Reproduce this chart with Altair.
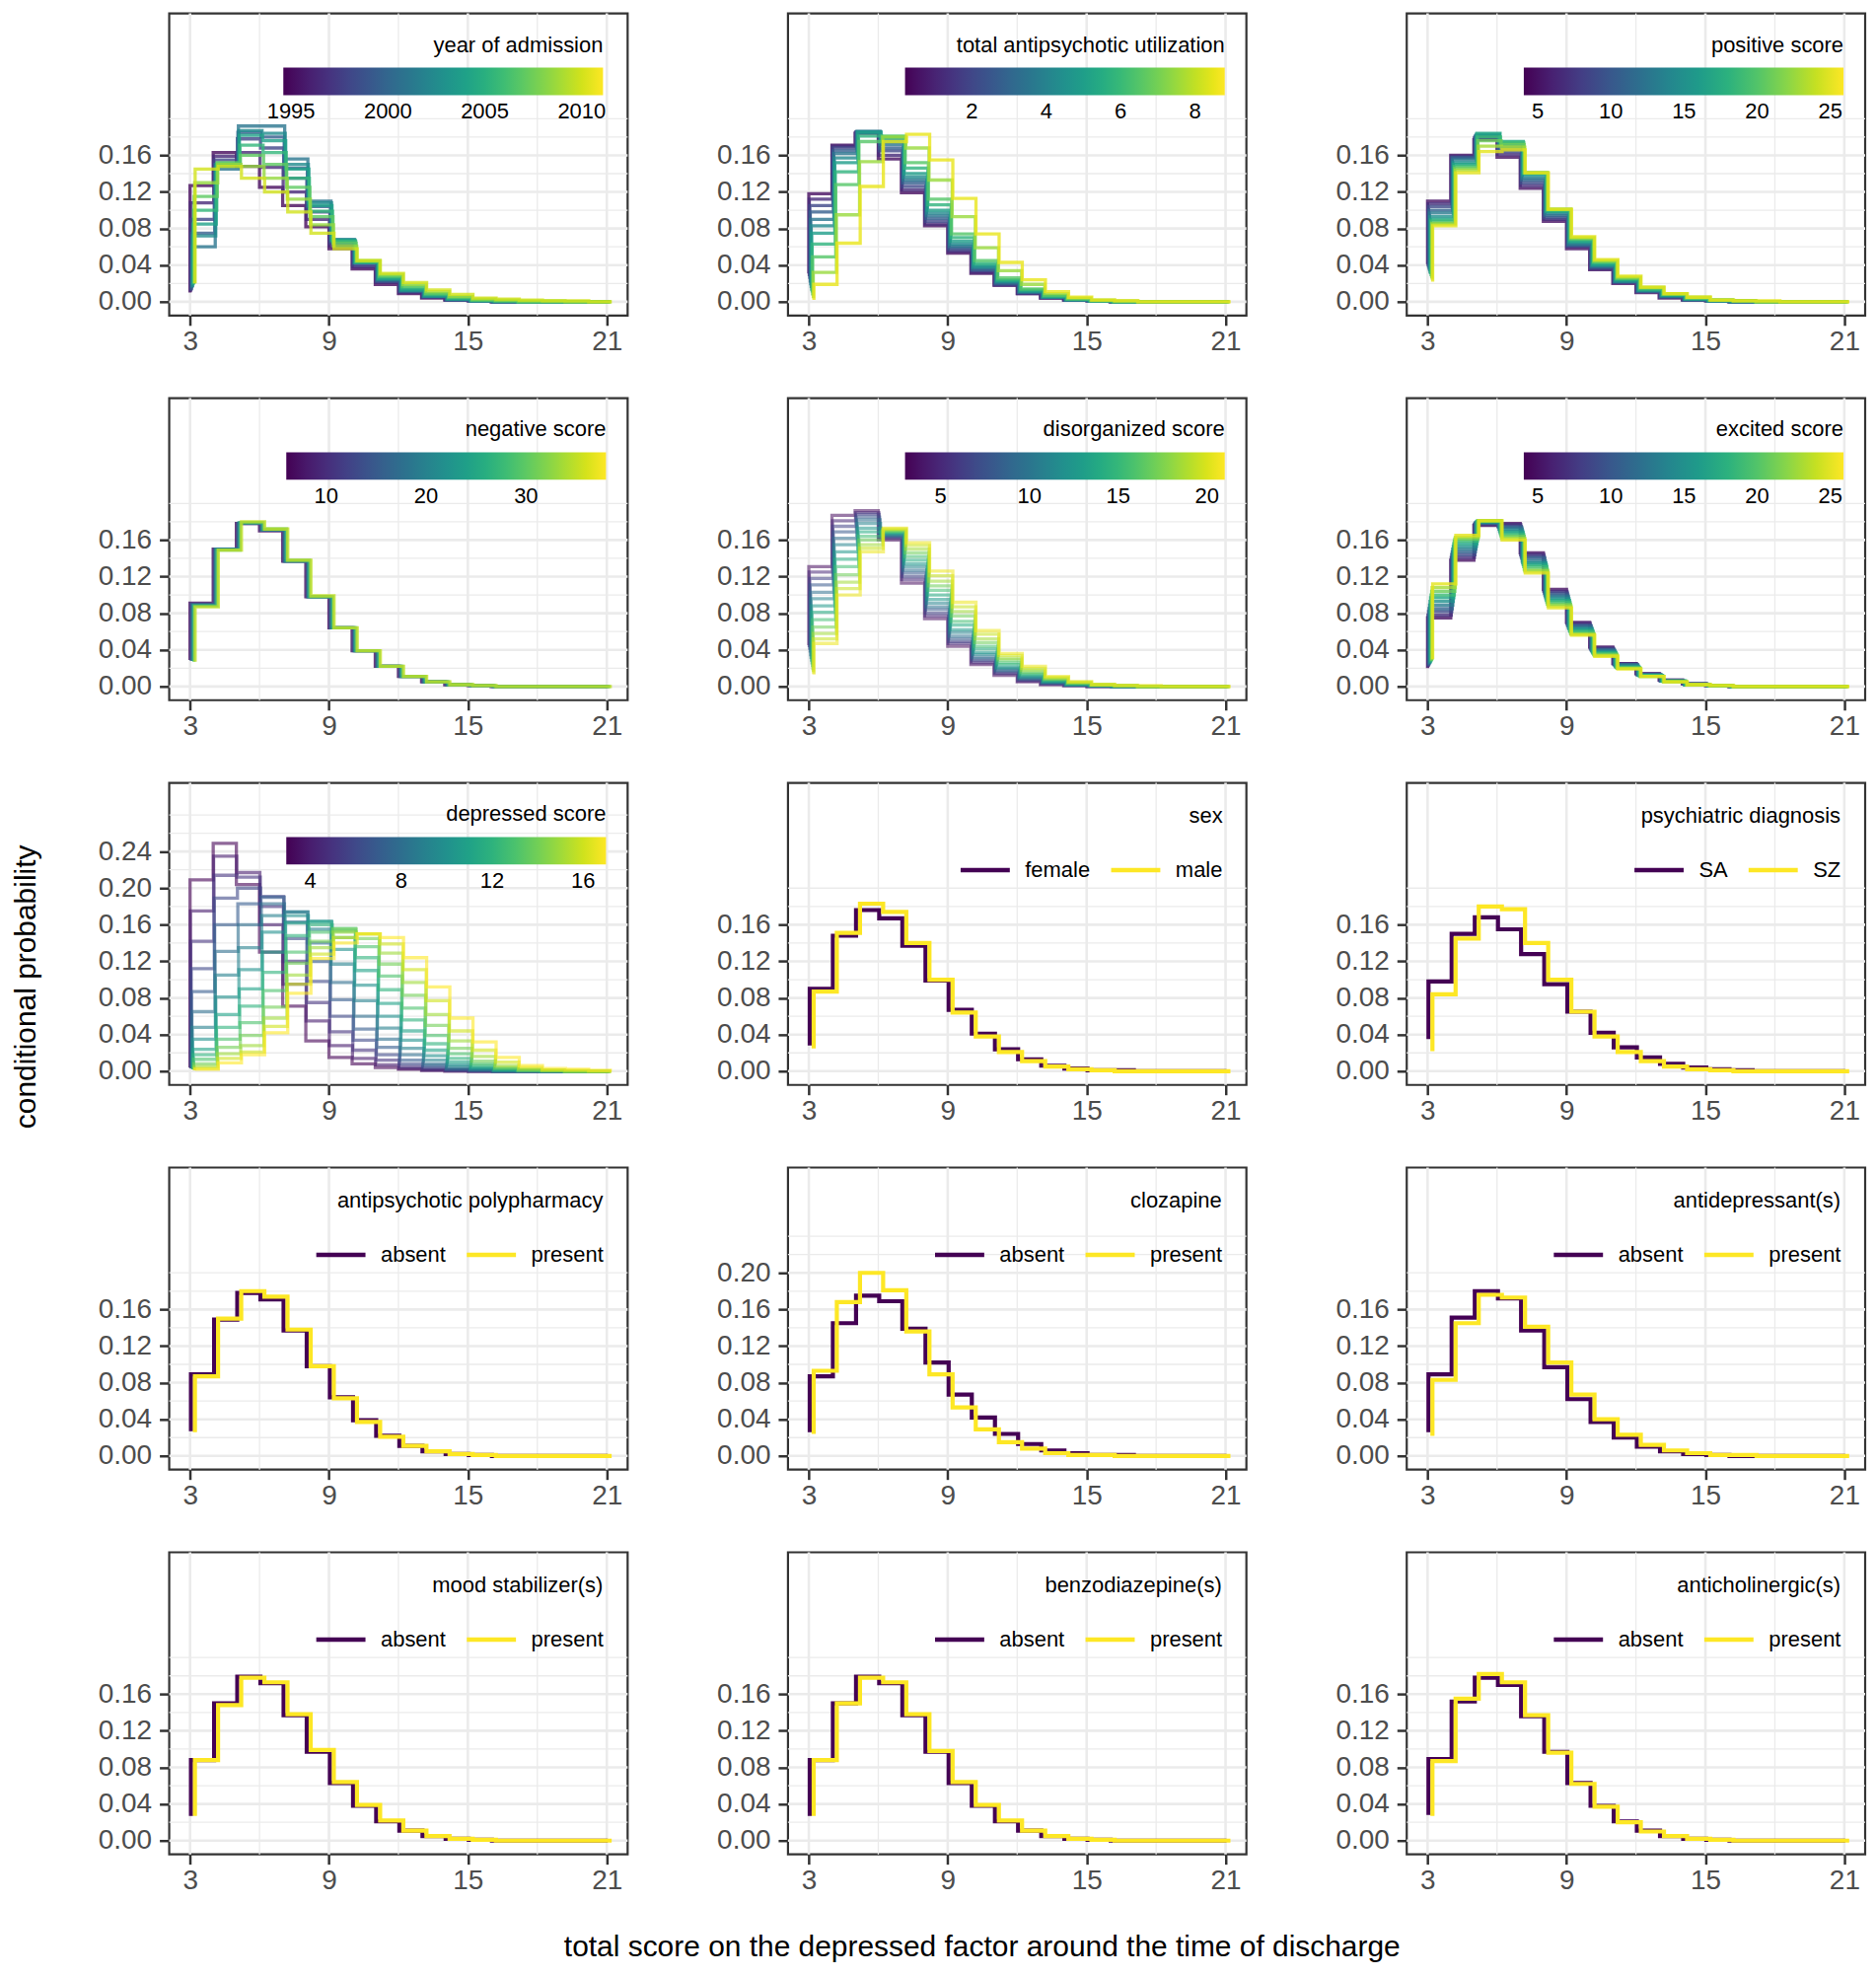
import altair as alt
import pandas as pd

# ---------------------------------------------------------------- data
SCORES = [3, 4, 5, 6, 7, 8, 9, 10, 11, 12, 13, 14, 15, 16, 17, 18, 19, 20, 21]
X_TICKS = [3, 9, 15, 21]
X_MINOR = [6, 12, 18]
Y_TICKS_16 = [0.0, 0.04, 0.08, 0.12, 0.16]
Y_MINOR_16 = [0.02, 0.06, 0.10, 0.14, 0.18, 0.20]
Y_TICKS_20 = [0.0, 0.04, 0.08, 0.12, 0.16, 0.20]
Y_MINOR_20 = [0.02, 0.06, 0.10, 0.14, 0.18, 0.22, 0.24]
Y_TICKS_24 = [0.0, 0.04, 0.08, 0.12, 0.16, 0.20, 0.24]
Y_MINOR_24 = [0.02, 0.06, 0.10, 0.14, 0.18, 0.22, 0.26, 0.28]

# year of admission
YEAR_VALUES = [1995, 1996.5, 1998, 1999.5, 2001, 2002.5, 2004, 2005.5, 2007, 2008.5, 2010]
YEAR_DOMAIN = [1994.6, 2011.1]
YEAR_LABELS = [1995, 2000, 2005, 2010]
YEAR_PROBS = [
    [0.010, 0.127, 0.163, 0.148, 0.125, 0.105, 0.082, 0.058, 0.036, 0.019, 0.009, 0.004, 0.002, 0.001, 0.000, 0.000, 0.000, 0.000, 0.000],
    [0.011, 0.108, 0.159, 0.163, 0.147, 0.120, 0.090, 0.061, 0.038, 0.021, 0.010, 0.005, 0.002, 0.001, 0.000, 0.000, 0.000, 0.000, 0.000],
    [0.012, 0.090, 0.155, 0.178, 0.168, 0.135, 0.098, 0.064, 0.040, 0.022, 0.011, 0.005, 0.002, 0.001, 0.000, 0.000, 0.000, 0.000, 0.000],
    [0.013, 0.075, 0.150, 0.185, 0.180, 0.146, 0.104, 0.066, 0.042, 0.023, 0.012, 0.006, 0.002, 0.001, 0.000, 0.000, 0.000, 0.000, 0.000],
    [0.015, 0.060, 0.145, 0.192, 0.192, 0.156, 0.110, 0.068, 0.043, 0.024, 0.012, 0.006, 0.003, 0.001, 0.000, 0.000, 0.000, 0.000, 0.000],
    [0.016, 0.072, 0.148, 0.187, 0.184, 0.150, 0.108, 0.068, 0.043, 0.025, 0.013, 0.006, 0.003, 0.001, 0.000, 0.000, 0.000, 0.000, 0.000],
    [0.018, 0.085, 0.150, 0.182, 0.176, 0.145, 0.105, 0.067, 0.043, 0.025, 0.013, 0.007, 0.003, 0.001, 0.001, 0.000, 0.000, 0.000, 0.000],
    [0.019, 0.100, 0.151, 0.171, 0.163, 0.135, 0.099, 0.066, 0.044, 0.027, 0.015, 0.008, 0.004, 0.002, 0.001, 0.000, 0.000, 0.000, 0.000],
    [0.020, 0.115, 0.152, 0.160, 0.150, 0.125, 0.093, 0.064, 0.044, 0.028, 0.017, 0.009, 0.005, 0.002, 0.001, 0.000, 0.000, 0.000, 0.000],
    [0.020, 0.130, 0.150, 0.148, 0.135, 0.112, 0.084, 0.061, 0.045, 0.030, 0.019, 0.011, 0.006, 0.003, 0.002, 0.001, 0.001, 0.000, 0.000],
    [0.020, 0.145, 0.148, 0.135, 0.120, 0.098, 0.075, 0.058, 0.045, 0.031, 0.021, 0.013, 0.008, 0.004, 0.003, 0.002, 0.001, 0.001, 0.000],
]

# total antipsychotic utilization
APU_VALUES = [0.5, 1.25, 2.0, 2.75, 3.5, 4.25, 5.0, 5.75, 6.5, 7.5, 8.5]
APU_DOMAIN = [0.2, 8.8]
APU_LABELS = [2, 4, 6, 8]
APU_PROBS = [
    [0.031, 0.118, 0.171, 0.184, 0.156, 0.119, 0.083, 0.053, 0.031, 0.018, 0.009, 0.004, 0.002, 0.001, 0.000, 0.000, 0.000, 0.000, 0.000],
    [0.028, 0.112, 0.170, 0.185, 0.160, 0.122, 0.085, 0.055, 0.032, 0.018, 0.009, 0.004, 0.002, 0.001, 0.000, 0.000, 0.000, 0.000, 0.000],
    [0.025, 0.105, 0.168, 0.185, 0.165, 0.126, 0.088, 0.057, 0.034, 0.019, 0.010, 0.005, 0.002, 0.001, 0.000, 0.000, 0.000, 0.000, 0.000],
    [0.021, 0.098, 0.165, 0.186, 0.168, 0.130, 0.091, 0.059, 0.035, 0.020, 0.010, 0.005, 0.002, 0.001, 0.000, 0.000, 0.000, 0.000, 0.000],
    [0.018, 0.090, 0.162, 0.186, 0.172, 0.133, 0.094, 0.061, 0.037, 0.021, 0.011, 0.005, 0.002, 0.001, 0.000, 0.000, 0.000, 0.000, 0.000],
    [0.015, 0.083, 0.157, 0.186, 0.175, 0.136, 0.097, 0.063, 0.038, 0.022, 0.011, 0.005, 0.002, 0.001, 0.000, 0.000, 0.000, 0.000, 0.000],
    [0.012, 0.075, 0.152, 0.185, 0.178, 0.140, 0.100, 0.066, 0.040, 0.023, 0.012, 0.006, 0.003, 0.001, 0.000, 0.000, 0.000, 0.000, 0.000],
    [0.010, 0.063, 0.142, 0.181, 0.180, 0.146, 0.106, 0.070, 0.042, 0.024, 0.013, 0.006, 0.003, 0.001, 0.000, 0.000, 0.000, 0.000, 0.000],
    [0.007, 0.049, 0.128, 0.175, 0.181, 0.152, 0.112, 0.074, 0.045, 0.026, 0.014, 0.007, 0.003, 0.001, 0.000, 0.000, 0.000, 0.000, 0.000],
    [0.004, 0.032, 0.095, 0.153, 0.180, 0.168, 0.133, 0.093, 0.059, 0.034, 0.019, 0.009, 0.004, 0.002, 0.001, 0.000, 0.000, 0.000, 0.000],
    [0.002, 0.019, 0.064, 0.126, 0.175, 0.183, 0.155, 0.113, 0.074, 0.043, 0.024, 0.011, 0.005, 0.002, 0.001, 0.000, 0.000, 0.000, 0.000],
]

# positive score
POS_VALUES = [5, 7, 9, 11, 13, 15, 17, 19, 21, 23, 25]
POS_DOMAIN = [4.05, 25.9]
POS_LABELS = [5, 10, 15, 20, 25]
POS_PROBS = [
    [0.041, 0.110, 0.160, 0.177, 0.158, 0.124, 0.088, 0.058, 0.035, 0.020, 0.010, 0.004, 0.002, 0.001, 0.000, 0.000, 0.000, 0.000, 0.000],
    [0.039, 0.107, 0.159, 0.179, 0.161, 0.127, 0.090, 0.060, 0.036, 0.021, 0.011, 0.005, 0.002, 0.001, 0.000, 0.000, 0.000, 0.000, 0.000],
    [0.037, 0.104, 0.158, 0.180, 0.164, 0.130, 0.092, 0.061, 0.037, 0.021, 0.011, 0.005, 0.002, 0.001, 0.000, 0.000, 0.000, 0.000, 0.000],
    [0.035, 0.100, 0.157, 0.181, 0.167, 0.133, 0.094, 0.062, 0.038, 0.022, 0.012, 0.006, 0.002, 0.001, 0.000, 0.000, 0.000, 0.000, 0.000],
    [0.033, 0.097, 0.155, 0.182, 0.170, 0.135, 0.096, 0.063, 0.039, 0.022, 0.012, 0.006, 0.003, 0.001, 0.000, 0.000, 0.000, 0.000, 0.000],
    [0.031, 0.093, 0.152, 0.183, 0.173, 0.138, 0.098, 0.065, 0.040, 0.023, 0.013, 0.007, 0.003, 0.001, 0.000, 0.000, 0.000, 0.000, 0.000],
    [0.030, 0.090, 0.150, 0.184, 0.175, 0.140, 0.099, 0.066, 0.041, 0.024, 0.013, 0.007, 0.003, 0.001, 0.001, 0.000, 0.000, 0.000, 0.000],
    [0.028, 0.088, 0.148, 0.180, 0.174, 0.141, 0.100, 0.068, 0.043, 0.025, 0.014, 0.008, 0.004, 0.002, 0.001, 0.000, 0.000, 0.000, 0.000],
    [0.026, 0.086, 0.146, 0.176, 0.172, 0.141, 0.101, 0.069, 0.044, 0.026, 0.015, 0.008, 0.004, 0.002, 0.001, 0.000, 0.000, 0.000, 0.000],
    [0.024, 0.085, 0.144, 0.170, 0.169, 0.141, 0.101, 0.070, 0.045, 0.027, 0.016, 0.009, 0.005, 0.002, 0.001, 0.000, 0.000, 0.000, 0.000],
    [0.022, 0.083, 0.141, 0.164, 0.166, 0.141, 0.101, 0.071, 0.046, 0.028, 0.016, 0.009, 0.005, 0.002, 0.001, 0.001, 0.000, 0.000, 0.000],
]

# negative score
NEG_VALUES = [7, 14, 21, 28, 35]
NEG_DOMAIN = [6.0, 38.0]
NEG_LABELS = [10, 20, 30]
NEG_PROBS = [
    [0.029, 0.091, 0.150, 0.178, 0.170, 0.137, 0.098, 0.064, 0.039, 0.022, 0.011, 0.005, 0.002, 0.001, 0.000, 0.000, 0.000, 0.000, 0.000],
    [0.028, 0.090, 0.150, 0.178, 0.171, 0.137, 0.098, 0.064, 0.039, 0.022, 0.011, 0.005, 0.002, 0.001, 0.000, 0.000, 0.000, 0.000, 0.000],
    [0.028, 0.089, 0.150, 0.179, 0.171, 0.137, 0.098, 0.064, 0.039, 0.022, 0.011, 0.005, 0.002, 0.001, 0.000, 0.000, 0.000, 0.000, 0.000],
    [0.027, 0.088, 0.149, 0.179, 0.172, 0.138, 0.098, 0.064, 0.039, 0.022, 0.011, 0.005, 0.002, 0.001, 0.000, 0.000, 0.000, 0.000, 0.000],
    [0.027, 0.087, 0.149, 0.180, 0.172, 0.138, 0.099, 0.064, 0.039, 0.022, 0.011, 0.005, 0.002, 0.001, 0.000, 0.000, 0.000, 0.000, 0.000],
]

# disorganized score
DIS_VALUES = [3.5, 5.0, 6.5, 8.0, 9.5, 11.0, 12.5, 14.0, 15.5, 17.0, 18.5, 19.5, 20.5]
DIS_DOMAIN = [3.0, 21.0]
DIS_LABELS = [5, 10, 15, 20]
DIS_PROBS = [
    [0.045, 0.131, 0.187, 0.192, 0.160, 0.113, 0.074, 0.044, 0.024, 0.012, 0.005, 0.002, 0.001, 0.000, 0.000, 0.000, 0.000, 0.000, 0.000],
    [0.043, 0.125, 0.181, 0.190, 0.162, 0.117, 0.077, 0.047, 0.026, 0.014, 0.006, 0.003, 0.001, 0.000, 0.000, 0.000, 0.000, 0.000, 0.000],
    [0.040, 0.118, 0.175, 0.188, 0.163, 0.120, 0.080, 0.049, 0.028, 0.015, 0.007, 0.003, 0.001, 0.000, 0.000, 0.000, 0.000, 0.000, 0.000],
    [0.037, 0.111, 0.169, 0.185, 0.164, 0.124, 0.084, 0.052, 0.030, 0.017, 0.008, 0.004, 0.002, 0.001, 0.000, 0.000, 0.000, 0.000, 0.000],
    [0.033, 0.103, 0.162, 0.182, 0.165, 0.127, 0.087, 0.055, 0.032, 0.018, 0.009, 0.004, 0.002, 0.001, 0.000, 0.000, 0.000, 0.000, 0.000],
    [0.030, 0.096, 0.155, 0.178, 0.166, 0.131, 0.091, 0.059, 0.035, 0.020, 0.010, 0.005, 0.002, 0.001, 0.000, 0.000, 0.000, 0.000, 0.000],
    [0.027, 0.088, 0.147, 0.173, 0.167, 0.134, 0.095, 0.062, 0.037, 0.021, 0.011, 0.005, 0.002, 0.001, 0.000, 0.000, 0.000, 0.000, 0.000],
    [0.024, 0.081, 0.139, 0.169, 0.168, 0.138, 0.100, 0.067, 0.041, 0.024, 0.013, 0.006, 0.003, 0.001, 0.000, 0.000, 0.000, 0.000, 0.000],
    [0.021, 0.073, 0.131, 0.164, 0.169, 0.142, 0.105, 0.071, 0.044, 0.026, 0.014, 0.007, 0.003, 0.001, 0.001, 0.000, 0.000, 0.000, 0.000],
    [0.018, 0.065, 0.122, 0.160, 0.170, 0.146, 0.110, 0.077, 0.048, 0.029, 0.016, 0.008, 0.004, 0.002, 0.001, 0.000, 0.000, 0.000, 0.000],
    [0.016, 0.058, 0.114, 0.155, 0.171, 0.150, 0.115, 0.082, 0.052, 0.031, 0.018, 0.009, 0.004, 0.002, 0.001, 0.000, 0.000, 0.000, 0.000],
    [0.014, 0.052, 0.107, 0.151, 0.172, 0.154, 0.121, 0.087, 0.057, 0.034, 0.020, 0.010, 0.005, 0.002, 0.001, 0.000, 0.000, 0.000, 0.000],
    [0.013, 0.047, 0.100, 0.147, 0.173, 0.157, 0.126, 0.092, 0.061, 0.036, 0.022, 0.011, 0.005, 0.002, 0.001, 0.001, 0.000, 0.000, 0.000],
]

# excited score
EXC_VALUES = [5, 7, 9, 11, 13, 15, 17, 19, 21, 23, 25]
EXC_DOMAIN = [4.05, 25.9]
EXC_LABELS = [5, 10, 15, 20, 25]
EXC_PROBS = [
    [0.020, 0.075, 0.138, 0.176, 0.178, 0.146, 0.106, 0.070, 0.043, 0.025, 0.014, 0.007, 0.003, 0.001, 0.000, 0.000, 0.000, 0.000, 0.000],
    [0.021, 0.078, 0.141, 0.177, 0.177, 0.144, 0.104, 0.069, 0.042, 0.025, 0.014, 0.007, 0.003, 0.001, 0.000, 0.000, 0.000, 0.000, 0.000],
    [0.022, 0.082, 0.144, 0.178, 0.175, 0.142, 0.102, 0.067, 0.041, 0.024, 0.013, 0.006, 0.003, 0.001, 0.000, 0.000, 0.000, 0.000, 0.000],
    [0.023, 0.085, 0.147, 0.179, 0.174, 0.140, 0.100, 0.066, 0.040, 0.024, 0.013, 0.006, 0.003, 0.001, 0.000, 0.000, 0.000, 0.000, 0.000],
    [0.024, 0.089, 0.150, 0.179, 0.172, 0.137, 0.098, 0.064, 0.039, 0.023, 0.013, 0.006, 0.002, 0.001, 0.000, 0.000, 0.000, 0.000, 0.000],
    [0.025, 0.093, 0.153, 0.180, 0.170, 0.135, 0.096, 0.063, 0.038, 0.022, 0.012, 0.006, 0.002, 0.001, 0.000, 0.000, 0.000, 0.000, 0.000],
    [0.026, 0.097, 0.156, 0.180, 0.168, 0.133, 0.094, 0.061, 0.037, 0.021, 0.012, 0.006, 0.002, 0.001, 0.000, 0.000, 0.000, 0.000, 0.000],
    [0.027, 0.100, 0.159, 0.181, 0.166, 0.131, 0.092, 0.060, 0.036, 0.021, 0.012, 0.006, 0.002, 0.001, 0.000, 0.000, 0.000, 0.000, 0.000],
    [0.028, 0.104, 0.161, 0.181, 0.164, 0.128, 0.090, 0.058, 0.035, 0.020, 0.011, 0.005, 0.002, 0.001, 0.000, 0.000, 0.000, 0.000, 0.000],
    [0.029, 0.108, 0.163, 0.181, 0.162, 0.126, 0.088, 0.057, 0.034, 0.020, 0.011, 0.005, 0.002, 0.001, 0.000, 0.000, 0.000, 0.000, 0.000],
    [0.030, 0.112, 0.165, 0.181, 0.160, 0.124, 0.086, 0.056, 0.033, 0.019, 0.011, 0.005, 0.002, 0.001, 0.000, 0.000, 0.000, 0.000, 0.000],
]

# depressed score (one line per previous score 3..17)
DEP_VALUES = [3, 4, 5, 6, 7, 8, 9, 10, 11, 12, 13, 14, 15, 16, 17]
DEP_DOMAIN = [2.95, 17.0]
DEP_LABELS = [4, 8, 12, 16]
DEP_PROBS = [
    [0.004, 0.209, 0.249, 0.204, 0.130, 0.071, 0.033, 0.015, 0.008, 0.004, 0.002, 0.001, 0.000, 0.000, 0.000, 0.000, 0.000, 0.000, 0.000],
    [0.004, 0.175, 0.235, 0.217, 0.160, 0.095, 0.055, 0.028, 0.014, 0.007, 0.003, 0.001, 0.001, 0.000, 0.000, 0.000, 0.000, 0.000, 0.000],
    [0.003, 0.142, 0.214, 0.212, 0.180, 0.120, 0.075, 0.043, 0.023, 0.012, 0.005, 0.002, 0.001, 0.000, 0.000, 0.000, 0.000, 0.000, 0.000],
    [0.003, 0.112, 0.189, 0.200, 0.191, 0.145, 0.098, 0.060, 0.034, 0.018, 0.008, 0.004, 0.001, 0.001, 0.000, 0.000, 0.000, 0.000, 0.000],
    [0.003, 0.087, 0.160, 0.183, 0.190, 0.163, 0.120, 0.078, 0.046, 0.026, 0.012, 0.006, 0.002, 0.001, 0.000, 0.000, 0.000, 0.000, 0.000],
    [0.003, 0.065, 0.131, 0.160, 0.183, 0.174, 0.140, 0.097, 0.060, 0.035, 0.018, 0.008, 0.003, 0.001, 0.000, 0.000, 0.000, 0.000, 0.000],
    [0.003, 0.048, 0.105, 0.135, 0.170, 0.174, 0.155, 0.117, 0.077, 0.047, 0.025, 0.012, 0.005, 0.002, 0.001, 0.000, 0.000, 0.000, 0.000],
    [0.002, 0.035, 0.081, 0.111, 0.152, 0.170, 0.164, 0.133, 0.094, 0.060, 0.034, 0.017, 0.007, 0.003, 0.001, 0.001, 0.000, 0.000, 0.000],
    [0.002, 0.024, 0.062, 0.090, 0.130, 0.162, 0.163, 0.146, 0.110, 0.074, 0.044, 0.023, 0.010, 0.004, 0.001, 0.001, 0.000, 0.000, 0.000],
    [0.002, 0.018, 0.048, 0.071, 0.108, 0.148, 0.160, 0.153, 0.124, 0.089, 0.056, 0.030, 0.014, 0.006, 0.002, 0.001, 0.001, 0.000, 0.000],
    [0.002, 0.013, 0.035, 0.053, 0.088, 0.130, 0.152, 0.156, 0.136, 0.104, 0.069, 0.039, 0.019, 0.008, 0.003, 0.001, 0.001, 0.000, 0.000],
    [0.002, 0.008, 0.026, 0.039, 0.070, 0.118, 0.142, 0.155, 0.145, 0.117, 0.083, 0.050, 0.025, 0.011, 0.004, 0.001, 0.001, 0.000, 0.000],
    [0.001, 0.005, 0.019, 0.028, 0.058, 0.105, 0.135, 0.152, 0.150, 0.129, 0.097, 0.062, 0.033, 0.016, 0.006, 0.002, 0.001, 0.000, 0.000],
    [0.001, 0.003, 0.014, 0.021, 0.049, 0.095, 0.128, 0.146, 0.150, 0.139, 0.111, 0.077, 0.044, 0.023, 0.010, 0.004, 0.001, 0.001, 0.000],
    [0.001, 0.002, 0.009, 0.018, 0.042, 0.085, 0.123, 0.140, 0.150, 0.146, 0.124, 0.092, 0.058, 0.032, 0.015, 0.006, 0.003, 0.002, 0.001],
]

# two-level covariates
SEX_LEVELS = ["female", "male"]
SEX_PROBS = [
    [0.028, 0.090, 0.148, 0.176, 0.167, 0.137, 0.099, 0.067, 0.041, 0.024, 0.013, 0.006, 0.003, 0.001, 0.001, 0.000, 0.000, 0.000, 0.000],
    [0.025, 0.087, 0.151, 0.183, 0.174, 0.140, 0.100, 0.064, 0.038, 0.021, 0.011, 0.005, 0.002, 0.001, 0.000, 0.000, 0.000, 0.000, 0.000],
]
DIAG_LEVELS = ["SA", "SZ"]
DIAG_PROBS = [
    [0.035, 0.098, 0.150, 0.168, 0.155, 0.128, 0.095, 0.065, 0.042, 0.026, 0.015, 0.008, 0.004, 0.002, 0.001, 0.000, 0.000, 0.000, 0.000],
    [0.022, 0.084, 0.145, 0.180, 0.177, 0.140, 0.100, 0.065, 0.038, 0.021, 0.011, 0.005, 0.002, 0.001, 0.000, 0.000, 0.000, 0.000, 0.000],
]
AP_LEVELS = ["absent", "present"]
POLY_PROBS = [
    [0.027, 0.089, 0.149, 0.178, 0.171, 0.137, 0.098, 0.064, 0.039, 0.022, 0.011, 0.005, 0.002, 0.001, 0.000, 0.000, 0.000, 0.000, 0.000],
    [0.026, 0.087, 0.150, 0.180, 0.174, 0.138, 0.098, 0.063, 0.037, 0.021, 0.011, 0.005, 0.002, 0.001, 0.000, 0.000, 0.000, 0.000, 0.000],
]
CLOZ_PROBS = [
    [0.026, 0.087, 0.145, 0.175, 0.169, 0.139, 0.102, 0.067, 0.042, 0.024, 0.013, 0.006, 0.003, 0.001, 0.001, 0.000, 0.000, 0.000, 0.000],
    [0.024, 0.093, 0.168, 0.200, 0.181, 0.136, 0.089, 0.053, 0.029, 0.015, 0.008, 0.003, 0.001, 0.001, 0.000, 0.000, 0.000, 0.000, 0.000],
]
ADEP_PROBS = [
    [0.026, 0.089, 0.151, 0.180, 0.172, 0.137, 0.097, 0.062, 0.037, 0.020, 0.010, 0.005, 0.002, 0.001, 0.000, 0.000, 0.000, 0.000, 0.000],
    [0.022, 0.083, 0.145, 0.176, 0.173, 0.141, 0.102, 0.067, 0.040, 0.023, 0.012, 0.006, 0.003, 0.001, 0.001, 0.000, 0.000, 0.000, 0.000],
]
MOOD_PROBS = [
    [0.027, 0.088, 0.150, 0.179, 0.172, 0.137, 0.097, 0.063, 0.038, 0.021, 0.011, 0.005, 0.002, 0.001, 0.000, 0.000, 0.000, 0.000, 0.000],
    [0.027, 0.088, 0.148, 0.178, 0.173, 0.138, 0.099, 0.064, 0.039, 0.022, 0.011, 0.005, 0.002, 0.001, 0.000, 0.000, 0.000, 0.000, 0.000],
]
BENZ_PROBS = [
    [0.027, 0.088, 0.150, 0.179, 0.172, 0.137, 0.097, 0.063, 0.038, 0.021, 0.011, 0.005, 0.002, 0.001, 0.000, 0.000, 0.000, 0.000, 0.000],
    [0.027, 0.088, 0.150, 0.178, 0.173, 0.138, 0.098, 0.064, 0.039, 0.022, 0.011, 0.005, 0.002, 0.001, 0.000, 0.000, 0.000, 0.000, 0.000],
]
ACHOL_PROBS = [
    [0.028, 0.089, 0.152, 0.178, 0.170, 0.136, 0.097, 0.063, 0.038, 0.021, 0.011, 0.005, 0.002, 0.001, 0.000, 0.000, 0.000, 0.000, 0.000],
    [0.027, 0.087, 0.155, 0.182, 0.173, 0.137, 0.096, 0.062, 0.037, 0.020, 0.010, 0.005, 0.002, 0.001, 0.000, 0.000, 0.000, 0.000, 0.000],
]

# ---------------------------------------------------------------- style
FONT = "Liberation Sans"
GRID_C = "#EBEBEB"
PANEL_W, PANEL_H = 466, 307
X_DOMAIN = [2.1, 21.9]
Y_DOMAIN = [-0.015, 0.315]
GRAD_DODGE = 0.22
CAT_DODGE = [0.04, 0.21]
CAT_COLORS = ["#440154", "#FDE725"]

XS = alt.Scale(domain=X_DOMAIN, nice=False, zero=False)
YS = alt.Scale(domain=Y_DOMAIN, nice=False, zero=False)


def make_axes(yticks):
    common = dict(title=None, grid=False, domain=False, labelFontSize=28,
                  labelColor="#4D4D4D", tickColor="#333333", tickWidth=2.5,
                  tickSize=10, labelFont=FONT, labelFlush=False, labelOverlap=False)
    xa = alt.Axis(values=X_TICKS, labelPadding=3, **common)
    ya = alt.Axis(values=yticks, format=".2f", labelPadding=8, **common)
    return xa, ya


def grid_layers(xa, ya, yticks, yminor):
    def rule(vals, ch, w):
        df = pd.DataFrame({"g": vals})
        if ch == "x":
            enc = {"x": alt.X("g:Q", scale=XS, axis=xa)}
        else:
            enc = {"y": alt.Y("g:Q", scale=YS, axis=ya)}
        return alt.Chart(df).mark_rule(color=GRID_C, strokeWidth=w).encode(**enc)
    return [rule(X_MINOR, "x", 1.3), rule(yminor, "y", 1.3),
            rule(X_TICKS, "x", 2.6), rule(yticks, "y", 2.6)]


def gradient_panel(title, values, probs, cdomain, lvals, opacity, yticks, yminor):
    lo, hi = min(values), max(values)
    recs = []
    for i, (v, ps) in enumerate(zip(values, probs)):
        off = GRAD_DODGE * (v - lo) / (hi - lo)
        for s, p in zip(SCORES, ps):
            recs.append({"x": s + off, "p": p, "v": v, "k": f"{i:02d}"})
    df = pd.DataFrame(recs)
    xa, ya = make_axes(yticks)
    legend = alt.Legend(
        title=title, orient="top-right", direction="horizontal", offset=22,
        gradientLength=325, gradientThickness=28, gradientStrokeWidth=0,
        values=lvals, format="d", labelOverlap=False, labelAlign="center",
        titleAnchor="end", titlePadding=11, labelOffset=7, titleLimit=800,
        titleFontSize=22, labelFontSize=22, padding=0)
    line = alt.Chart(df).mark_line(
        interpolate="step-before", strokeWidth=3.3, strokeOpacity=opacity
    ).encode(
        x=alt.X("x:Q", scale=XS, axis=xa),
        y=alt.Y("p:Q", scale=YS, axis=ya),
        color=alt.Color("v:Q", scale=alt.Scale(scheme="viridis", domain=cdomain, nice=False), legend=legend),
        detail="k:N",
    )
    return alt.layer(*grid_layers(xa, ya, yticks, yminor), line).properties(width=PANEL_W, height=PANEL_H)


def cat_panel(title, levels, probs, yticks, yminor):
    recs = []
    for i, (lev, ps) in enumerate(zip(levels, probs)):
        for s, p in zip(SCORES, ps):
            recs.append({"x": s + CAT_DODGE[i], "p": p, "g": lev})
    df = pd.DataFrame(recs)
    xa, ya = make_axes(yticks)
    legend = alt.Legend(
        title=title, orient="top-right", direction="horizontal", offset=24,
        symbolType="stroke", symbolSize=2500, symbolStrokeWidth=4.5,
        labelOffset=13, columnPadding=11, titleAnchor="end", titlePadding=15,
        titleLimit=800, titleFontSize=22, labelFontSize=22, padding=0)
    line = alt.Chart(df).mark_line(interpolate="step-before", strokeWidth=4.2).encode(
        x=alt.X("x:Q", scale=XS, axis=xa),
        y=alt.Y("p:Q", scale=YS, axis=ya),
        color=alt.Color("g:N", scale=alt.Scale(domain=levels, range=CAT_COLORS), legend=legend),
    )
    return alt.layer(*grid_layers(xa, ya, yticks, yminor), line).properties(width=PANEL_W, height=PANEL_H)


panels = [
    gradient_panel("year of admission", YEAR_VALUES, YEAR_PROBS, YEAR_DOMAIN, YEAR_LABELS, 0.8, Y_TICKS_16, Y_MINOR_16),
    gradient_panel("total antipsychotic utilization", APU_VALUES, APU_PROBS, APU_DOMAIN, APU_LABELS, 0.8, Y_TICKS_16, Y_MINOR_16),
    gradient_panel("positive score", POS_VALUES, POS_PROBS, POS_DOMAIN, POS_LABELS, 0.8, Y_TICKS_16, Y_MINOR_16),
    gradient_panel("negative score", NEG_VALUES, NEG_PROBS, NEG_DOMAIN, NEG_LABELS, 0.8, Y_TICKS_16, Y_MINOR_16),
    gradient_panel("disorganized score", DIS_VALUES, DIS_PROBS, DIS_DOMAIN, DIS_LABELS, 0.55, Y_TICKS_16, Y_MINOR_16),
    gradient_panel("excited score", EXC_VALUES, EXC_PROBS, EXC_DOMAIN, EXC_LABELS, 0.8, Y_TICKS_16, Y_MINOR_16),
    gradient_panel("depressed score", DEP_VALUES, DEP_PROBS, DEP_DOMAIN, DEP_LABELS, 0.6, Y_TICKS_24, Y_MINOR_24),
    cat_panel("sex", SEX_LEVELS, SEX_PROBS, Y_TICKS_16, Y_MINOR_16),
    cat_panel("psychiatric diagnosis", DIAG_LEVELS, DIAG_PROBS, Y_TICKS_16, Y_MINOR_16),
    cat_panel("antipsychotic polypharmacy", AP_LEVELS, POLY_PROBS, Y_TICKS_16, Y_MINOR_16),
    cat_panel("clozapine", AP_LEVELS, CLOZ_PROBS, Y_TICKS_20, Y_MINOR_20),
    cat_panel("antidepressant(s)", AP_LEVELS, ADEP_PROBS, Y_TICKS_16, Y_MINOR_16),
    cat_panel("mood stabilizer(s)", AP_LEVELS, MOOD_PROBS, Y_TICKS_16, Y_MINOR_16),
    cat_panel("benzodiazepine(s)", AP_LEVELS, BENZ_PROBS, Y_TICKS_16, Y_MINOR_16),
    cat_panel("anticholinergic(s)", AP_LEVELS, ACHOL_PROBS, Y_TICKS_16, Y_MINOR_16),
]

grid = alt.concat(*panels, columns=3, spacing={"row": 38, "column": 86}).resolve_scale(
    color="independent").resolve_legend(color="independent").properties(
    title=alt.TitleParams("total score on the depressed factor around the time of discharge",
                          orient="bottom", anchor="middle", fontSize=30, fontWeight="normal",
                          font=FONT, color="black", offset=38))

chart = alt.hconcat(grid).properties(
    title=alt.TitleParams("conditional probability", orient="left", anchor="middle",
                          fontSize=30, fontWeight="normal", font=FONT, color="black", offset=56),
    padding={"left": 4, "top": 0, "right": 0, "bottom": 2},
).configure(font=FONT).configure_view(
    stroke="#333333", strokeWidth=2.2
).configure_legend(
    titleFont=FONT, labelFont=FONT, titleFontWeight="normal", titleColor="black", labelColor="black"
)

chart.save("out.html", embed_options={"renderer": "svg", "actions": False})
